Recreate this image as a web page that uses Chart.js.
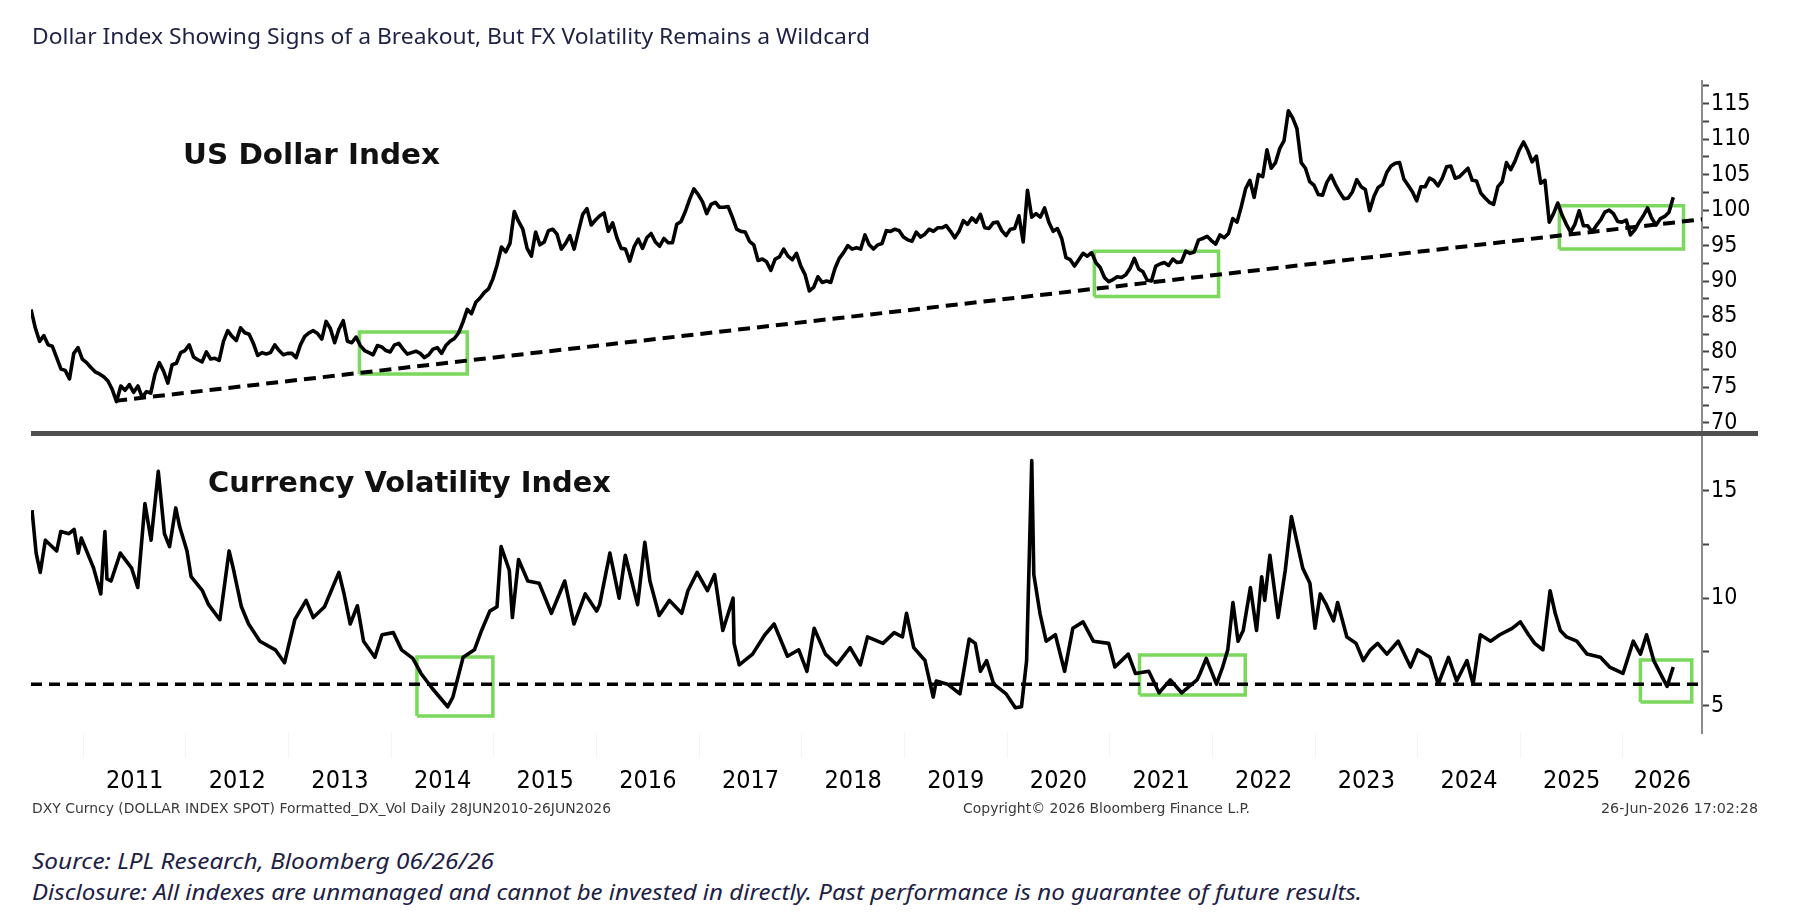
<!DOCTYPE html>
<html><head><meta charset="utf-8">
<script src="https://cdn.jsdelivr.net/npm/chart.js@4.4.1/dist/chart.umd.min.js"></script>
<style>
html,body{margin:0;padding:0;background:#fff;}
body{width:1808px;height:922px;position:relative;overflow:hidden;}
canvas{position:absolute;left:0;}
.t{position:absolute;white-space:nowrap;transform-origin:0 50%;line-height:1;left:0;top:0;}
#divider{position:absolute;left:31px;top:431px;width:1727px;height:5px;background:#4f4f4f;}
</style></head><body>
<canvas id="c1" width="1808" height="440" style="top:0;width:1808px;height:440px"></canvas>
<canvas id="c2" width="1808" height="394" style="top:436px;width:1808px;height:394px"></canvas>
<div id="divider"></div>
<div class="t" id="title" style="font-size:22px;color:#1d2145">Dollar Index Showing Signs of a Breakout, But FX Volatility Remains a Wildcard</div>
<div class="t" id="p1" style="font-weight:bold;font-size:29px;color:#111">US Dollar Index</div>
<div class="t" id="p2" style="font-weight:bold;font-size:29px;color:#111">Currency Volatility Index</div>
<div class="t" id="f1" style="font-size:14px;color:#3a3a3a">DXY Curncy (DOLLAR INDEX SPOT) Formatted_DX_Vol Daily 28JUN2010-26JUN2026</div>
<div class="t" id="f2" style="font-size:14px;color:#3a3a3a">Copyright© 2026 Bloomberg Finance L.P.</div>
<div class="t" id="f3" style="font-size:14px;color:#3a3a3a">26-Jun-2026 17:02:28</div>
<div class="t" id="s1" style="font-style:italic;font-size:21px;color:#1d2145">Source: LPL Research, Bloomberg 06/26/26</div>
<div class="t" id="s2" style="font-style:italic;font-size:21px;color:#1d2145">Disclosure: All indexes are unmanaged and cannot be invested in directly. Past performance is no guarantee of future results.</div>
<script>
// ---------------- DATA ----------------
// US Dollar Index, semi-monthly samples starting 28 Jun 2010
const dxyStart = 2010.49;
const dxyPerYear = 24;
const dxyValues = [
  86.0, 83.4, 81.5, 82.3, 81.0, 80.8, 79.2, 77.6, 77.4, 76.2, 79.8, 80.6, 79.0,                         // 2010 (Jun-Dec)
  78.5, 77.8, 77.2, 76.9, 76.5, 75.9, 74.7, 73.0, 75.2, 74.6, 75.4, 74.3, 75.2, 73.6, 74.4, 74.2, 76.9, 78.5, 77.3, 75.6, 78.2, 78.4, 79.9, 80.2, // 2011
  81.0, 79.3, 78.9, 78.6, 80.0, 79.0, 79.1, 78.8, 81.5, 83.0, 82.2, 81.6, 83.4, 82.7, 82.5, 81.2, 79.5, 79.9, 79.7, 79.9, 81.0, 80.2, 79.6, 79.8, // 2012
  79.8, 79.2, 81.0, 82.2, 82.7, 83.0, 82.6, 81.8, 84.3, 83.3, 81.3, 83.2, 84.4, 81.5, 81.3, 82.1, 80.9, 80.2, 79.9, 79.6, 80.9, 80.7, 80.2, 80.0, // 2013
  81.0, 81.2, 80.4, 79.7, 79.9, 80.1, 79.8, 79.2, 79.6, 80.4, 80.6, 79.8, 80.9, 81.5, 81.9, 82.7, 84.2, 86.0, 85.4, 87.0, 87.6, 88.4, 88.9, 90.3, // 2014
  92.3, 94.8, 94.1, 95.3, 99.8, 98.4, 97.3, 94.6, 93.5, 96.9, 95.1, 95.5, 97.1, 97.3, 96.6, 94.5, 95.3, 96.4, 94.5, 97.0, 99.4, 100.2, 97.9, 98.6, // 2015
  99.2, 99.6, 97.0, 98.2, 96.1, 94.6, 94.5, 92.8, 94.8, 95.9, 94.6, 96.1, 96.7, 95.5, 94.9, 96.0, 95.4, 95.4, 98.0, 98.4, 99.8, 101.5, 103.0, 102.2, // 2016
  101.2, 99.5, 100.8, 101.1, 100.4, 100.4, 100.5, 99.0, 97.3, 97.0, 96.9, 95.6, 95.1, 92.9, 93.1, 92.7, 91.5, 93.1, 93.4, 94.5, 93.5, 93.0, 93.9, 92.1, // 2017
  90.9, 88.6, 89.1, 90.6, 89.8, 90.0, 89.8, 91.8, 93.2, 94.0, 95.0, 94.5, 94.7, 94.5, 96.5, 95.1, 94.5, 95.1, 95.3, 97.1, 97.0, 97.3, 97.1, 96.2, // 2018
  95.8, 95.6, 96.9, 96.2, 96.6, 97.3, 97.0, 97.5, 97.5, 97.8, 97.0, 96.1, 97.0, 98.5, 98.0, 98.9, 98.3, 99.4, 97.5, 97.4, 98.2, 98.3, 97.1, 96.4, // 2019
  97.3, 97.4, 99.2, 95.5, 102.8, 99.0, 99.5, 99.0, 100.3, 98.3, 97.0, 97.4, 96.0, 93.3, 93.0, 92.1, 93.0, 93.9, 93.5, 94.0, 92.6, 91.9, 90.5, 89.9, // 2020
  90.2, 90.6, 90.5, 90.9, 91.8, 93.2, 91.7, 91.3, 90.1, 90.0, 92.1, 92.4, 92.6, 92.2, 93.1, 92.6, 92.7, 94.2, 93.9, 94.1, 95.8, 96.0, 96.3, 95.7, // 2021
  95.2, 96.5, 96.1, 96.7, 98.8, 98.3, 100.5, 103.0, 104.2, 101.8, 105.0, 104.7, 108.5, 105.9, 106.7, 108.7, 109.8, 114.0, 113.0, 111.5, 106.7, 105.9, 104.0, 103.5, // 2022
  102.2, 102.1, 103.9, 104.9, 103.6, 102.5, 101.6, 101.7, 102.6, 104.3, 103.3, 102.9, 99.9, 101.9, 103.2, 103.6, 105.3, 106.2, 106.6, 106.7, 104.4, 103.5, 102.6, 101.3, // 2023
  103.3, 103.3, 104.5, 104.2, 103.4, 104.5, 106.1, 106.2, 104.5, 104.7, 105.3, 105.9, 104.2, 104.1, 102.4, 101.7, 101.1, 100.8, 103.3, 104.0, 106.7, 105.7, 106.9, 108.5, // 2024
  109.6, 108.4, 106.8, 107.6, 103.8, 104.2, 98.3, 99.5, 101.0, 99.3, 98.0, 96.9, 98.0, 99.9, 97.8, 97.8, 96.9, 97.8, 98.6, 99.7, 100.0, 99.5, 98.4, 98.3, // 2025
  98.6, 96.5, 97.2, 98.3, 99.2, 100.3, 98.8, 97.9, 98.8, 99.1, 99.7, 101.8                                // 2026 (Jan-Jun)
];
// Currency volatility index (decimal year, value)
const volT = [
  2010.50,2010.54,2010.58,2010.63,2010.74,2010.78,2010.86,2010.91,2010.95,2010.98,
  2011.10,2011.17,2011.21,2011.23,2011.27,2011.36,2011.47,2011.53,2011.60,2011.66,2011.73,2011.79,2011.84,2011.90,2011.94,
  2012.01,2012.05,2012.16,2012.22,2012.33,2012.42,2012.46,2012.54,2012.61,2012.72,2012.87,2012.96,
  2013.06,2013.17,2013.24,2013.35,2013.49,2013.54,2013.60,2013.67,2013.73,2013.84,2013.91,
  2014.02,2014.10,2014.21,2014.29,2014.40,2014.55,2014.60,2014.70,2014.81,2014.88,2014.96,
  2015.03,2015.07,2015.15,2015.18,2015.24,2015.33,2015.44,2015.56,2015.69,2015.78,2015.89,
  2016.00,2016.03,2016.13,2016.22,2016.28,2016.40,2016.47,2016.52,2016.61,2016.71,2016.83,2016.89,2016.98,
  2017.08,2017.15,2017.23,2017.33,2017.34,2017.39,2017.52,2017.64,2017.73,2017.86,2017.97,
  2018.05,2018.12,2018.23,2018.34,2018.47,2018.57,2018.64,2018.79,2018.90,2018.98,
  2019.02,2019.09,2019.20,2019.28,2019.31,2019.42,2019.54,2019.63,2019.69,2019.74,2019.80,2019.87,2019.99,
  2020.08,2020.14,2020.19,2020.24,2020.26,2020.32,2020.38,2020.47,2020.56,2020.64,2020.74,2020.84,2020.99,
  2021.05,2021.18,2021.25,2021.38,2021.48,2021.59,2021.70,2021.85,2021.88,2021.94,
  2022.04,2022.10,2022.15,2022.20,2022.25,2022.30,2022.37,2022.43,2022.48,2022.51,2022.56,2022.64,2022.71,2022.77,2022.82,2022.88,2022.95,
  2023.00,2023.05,2023.11,2023.18,2023.22,2023.31,2023.40,2023.47,2023.54,2023.61,2023.70,2023.81,2023.93,
  2024.00,2024.12,2024.20,2024.30,2024.38,2024.48,2024.54,2024.61,2024.71,2024.80,2024.92,
  2025.00,2025.08,2025.14,2025.22,2025.29,2025.34,2025.39,2025.45,2025.55,2025.65,2025.78,2025.87,
  2026.00,2026.10,2026.17,2026.23,2026.30,2026.38,2026.43,2026.49
];
const volV = [
  14.1,12.1,11.2,12.7,12.2,13.1,13.0,13.2,12.1,12.8,
  11.4,10.2,13.1,10.9,10.8,12.1,11.4,10.5,14.4,12.7,15.9,13.0,12.4,14.2,13.3,
  12.2,11.0,10.35,9.7,9.0,12.2,11.4,9.6,8.8,8.0,7.6,7.0,
  9.0,9.9,9.1,9.6,11.2,10.2,8.8,9.65,8.0,7.25,8.3,
  8.4,7.6,7.2,6.5,5.8,4.95,5.4,7.25,7.6,8.5,9.4,
  9.6,12.4,11.3,9.1,11.8,10.8,10.7,9.3,10.8,8.8,10.2,
  9.4,9.7,12.1,10.0,12.0,9.7,12.6,10.8,9.2,9.9,9.3,10.35,11.2,
  10.35,11.1,8.5,10.0,7.9,6.9,7.4,8.3,8.8,7.3,7.6,
  6.6,8.6,7.4,6.9,7.7,6.9,8.2,7.9,8.4,8.2,
  9.3,7.7,7.1,5.4,6.15,6.0,5.55,8.1,7.9,6.6,7.1,6.0,5.55,
  4.9,4.95,7.1,16.4,11.1,9.3,8.0,8.3,6.6,8.6,8.9,8.0,7.9,
  6.8,7.4,6.5,6.6,5.6,6.2,5.6,6.2,6.5,7.2,
  6.0,6.8,7.6,9.8,8.0,8.5,10.5,8.5,11.0,9.9,12.0,9.1,11.3,13.8,12.7,11.4,10.7,
  8.6,10.2,9.7,8.95,9.8,8.2,7.9,7.1,7.6,7.9,7.4,8.0,6.8,
  7.6,7.25,6.0,7.25,6.15,7.1,6.0,8.3,8.0,8.3,8.6,
  8.9,8.3,7.9,7.6,10.35,9.3,8.5,8.2,8.0,7.4,7.25,6.8,
  6.5,8.0,7.4,8.3,7.1,6.35,5.9,6.8
];
// Dashed reference lines
const trendT = [2011.31, 2026.77];
const trendV = [73.1, 98.7];
const floorT = [2010.49, 2026.77];
const floorV = [6.0, 6.0];
// Highlight boxes: [startYear, endYear, low, high]
const dxyBoxes = [[2013.69, 2014.74, 76.9, 82.8], [2020.85, 2022.06, 87.8, 94.2], [2025.38, 2026.59, 94.5, 100.6]];
const volBoxes = [[2014.25, 2014.99, 4.52, 7.27], [2021.29, 2022.32, 5.50, 7.36], [2026.17, 2026.67, 5.17, 7.13]];
// Axis labels
const dxyTickLabels = [70, 75, 80, 85, 90, 95, 100, 105, 110, 115];
const volTickLabels = [5, 10, 15];
const yearLabels = ['2011','2012','2013','2014','2015','2016','2017','2018','2019','2020','2021','2022','2023','2024','2025','2026'];

// ---------------- HELPERS ----------------
function pickFont(list){
  const c = document.createElement('canvas').getContext('2d');
  const s = '2011 Wildcard Index 0123456789';
  c.font = '40px monospace'; const b1 = c.measureText(s).width;
  c.font = '40px serif'; const b2 = c.measureText(s).width;
  for (const f of list){
    c.font = `40px "${f}", monospace`; const w1 = c.measureText(s).width;
    c.font = `40px "${f}", serif`; const w2 = c.measureText(s).width;
    if (Math.abs(w1-b1) > 0.5 || Math.abs(w2-b2) > 0.5) return f;
  }
  return 'sans-serif';
}
const fCond = pickFont(['DejaVu Sans Condensed','Liberation Sans Narrow','DejaVu Sans']);
const fBold = pickFont(['DejaVu Sans','Verdana','Liberation Sans']);
const fText = pickFont(['Noto Sans','Lato','Open Sans','Liberation Sans']);

const X_MIN = 2010.49, X_MAX = 2026.77;
const GREEN = '#7ad85c';

const dxyPts = dxyValues.map((v,i)=>({x: dxyStart + i/dxyPerYear, y: v}));
const volPts = volT.map((t,i)=>({x: t, y: volV[i]}));
const pair = (T,V)=>T.map((t,i)=>({x:t, y:V[i]}));
const boxSets = boxes => boxes.map(b=>({
  data:[{x:b[0],y:b[2]},{x:b[1],y:b[2]},{x:b[1],y:b[3]},{x:b[0],y:b[3]},{x:b[0],y:b[2]}],
  borderColor: GREEN, borderWidth: 3.5, pointRadius: 0, tension: 0, order: 3, borderJoinStyle:'miter', clip: false
}));
function tickBuilder(labels, min, max){
  return s => {
    const vals = [];
    labels.forEach((v,i)=>{ vals.push(v); const m = (i < labels.length-1) ? (v + labels[i+1])/2 : v + (v - labels[i-1])/2; if (m < max - 0.1) vals.push(m); });
    const first = labels[0] - (labels[1]-labels[0])/2; if (first > min + 0.1) vals.unshift(first);
    s.ticks = vals.sort((a,b)=>a-b).map(v=>({value:v}));
  };
}
function yScale(labels, min, max){
  return {
    type:'linear', position:'right', min, max,
    afterBuildTicks: tickBuilder(labels, min, max),
    afterFit: s => { s.width = 70; s.paddingTop = 0; s.paddingBottom = 0; },
    grid:{drawOnChartArea:false, drawTicks:true, tickLength:7, tickColor:'#444', tickWidth:2},
    border:{display:true, color:'#8c8c8c', width:2},
    ticks:{padding:2, color:'#000', autoSkip:false, font:{family:fCond, size:23},
      callback: v => labels.includes(v) ? String(v) : ''}
  };
}
const base = {
  responsive:false, animation:false, devicePixelRatio:1, events:[],
  plugins:{legend:{display:false}, tooltip:{enabled:false}},
  elements:{line:{tension:0}, point:{radius:0}}
};

new Chart(document.getElementById('c1'), {
  type:'line',
  data:{datasets:[
    {data:dxyPts, borderColor:'#000', borderWidth:3.6, pointRadius:0, borderJoinStyle:'round', order:1},
    {data:pair(trendT,trendV), borderColor:'#000', borderWidth:4, borderDash:[12,7], pointRadius:0, order:2},
    ...boxSets(dxyBoxes)
  ]},
  options:Object.assign({}, base, {
    layout:{padding:{left:31, right:36, top:81, bottom:6.5}},
    scales:{
      x:{type:'linear', min:X_MIN, max:X_MAX, display:false},
      y:yScale(dxyTickLabels, 68.5, 118.2)
    }
  })
});

const labelPos = yearLabels.map((y,i)=> i < yearLabels.length-1 ? (+y + 0.5) : (+y + X_MAX)/2);
new Chart(document.getElementById('c2'), {
  type:'line',
  data:{datasets:[
    {data:volPts, borderColor:'#000', borderWidth:3.6, pointRadius:0, borderJoinStyle:'round', order:1},
    {data:pair(floorT,floorV), borderColor:'#000', borderWidth:3.5, borderDash:[11,7], pointRadius:0, order:2},
    ...boxSets(volBoxes)
  ]},
  options:Object.assign({}, base, {
    layout:{padding:{left:31, right:36, top:1, bottom:31}},
    scales:{
      xg:{type:'linear', axis:'x', position:'bottom', weight:0, min:X_MIN, max:X_MAX,
        afterBuildTicks: s => { s.ticks = yearLabels.map(y=>({value:+y})); },
        afterFit: s => { s.height = 0; s.paddingLeft = 0; s.paddingRight = 0; },
        ticks:{display:false},
        grid:{display:true, drawOnChartArea:false, drawTicks:true, tickLength:25, tickColor:'rgba(0,0,0,0.045)', tickWidth:1},
        border:{display:false}},
      x:{type:'linear', position:'bottom', weight:1, min:X_MIN, max:X_MAX,
        afterBuildTicks: s => { s.ticks = labelPos.map(v=>({value:v})); },
        afterFit: s => { s.height = 66; s.paddingLeft = 0; s.paddingRight = 0; },
        grid:{display:false, drawTicks:false}, border:{display:false},
        ticks:{padding:33, autoSkip:false, maxRotation:0, minRotation:0, color:'#000',
          font:{family:fCond, size:25}, callback:(v,i)=>yearLabels[i]}},
      y:yScale(volTickLabels, 3.73, 17.5)
    }
  })
});

// ---------------- TEXT PLACEMENT ----------------
const textSpec = [
  ['title', fText, 32, 870, 35],
  ['p1', fBold, 183, 440, 154],
  ['p2', fBold, 208, 611, 482],
  ['f1', fCond, 32, 611, 808],
  ['f2', fCond, 963, 1250, 808],
  ['f3', fCond, 1601, 1758, 808],
  ['s1', fText, 32, 494, 861],
  ['s2', fText, 32, 1362, 892]
];
function place(){
  textSpec.forEach(([id, fam, x0, x1, cy])=>{
    const el = document.getElementById(id);
    el.style.fontFamily = `"${fam}", sans-serif`;
    el.style.transform = 'none';
    const r = el.getBoundingClientRect();
    el.style.left = x0 + 'px';
    el.style.top = (cy - r.height/2) + 'px';
    el.style.transform = `scaleX(${(x1-x0)/r.width})`;
  });
}
place();
if (document.fonts && document.fonts.ready) document.fonts.ready.then(place);
</script>
</body></html>
